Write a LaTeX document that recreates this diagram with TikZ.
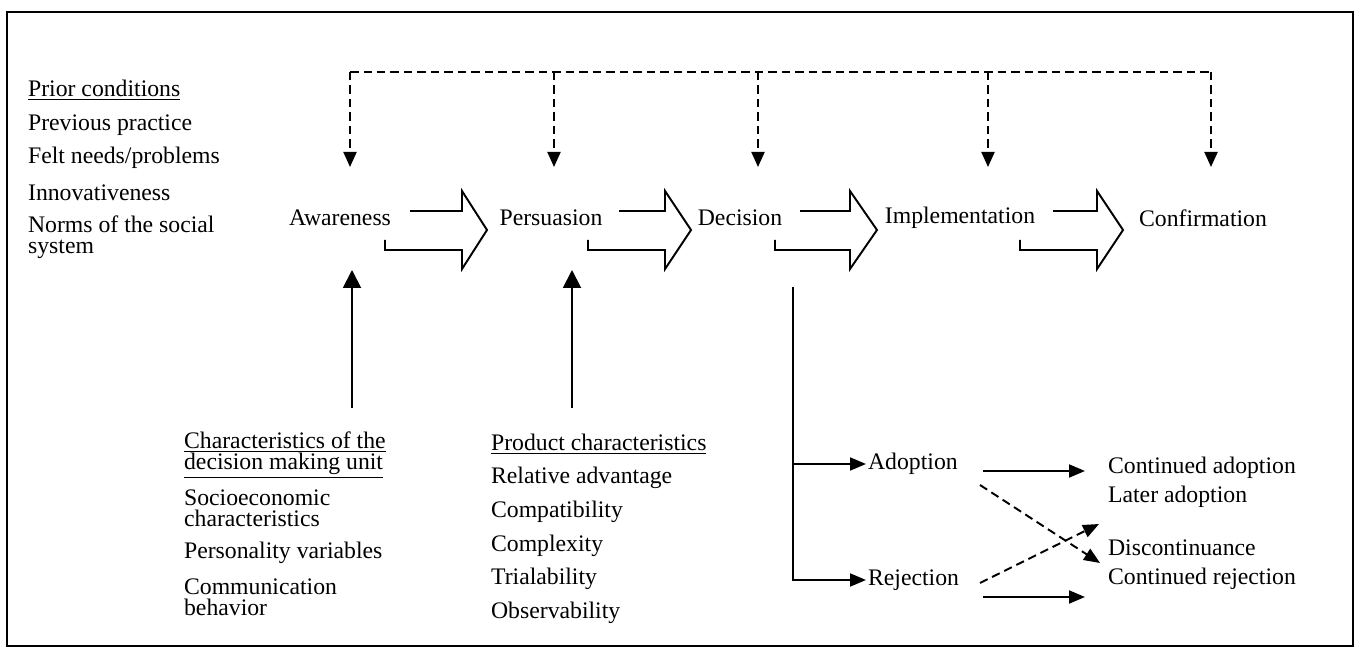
\documentclass[tikz,border=0pt]{standalone}
\usepackage{fontspec}
\setmainfont{Liberation Serif}
\usetikzlibrary{arrows.meta}

\tikzset{
  lbl/.style={font=\fontsize{13.5}{12}\selectfont, inner sep=1pt, align=left},
  wide/.style={lbl, font=\fontsize{13.5}{16.4}\selectfont},
  ln/.style={line width=1.1pt},
  tip/.style={ln, -{Triangle[length=0.32cm,width=0.26cm]}},
  bigtip/.style={ln, -{Triangle[length=0.36cm,width=0.36cm]}},
  dsh/.style={ln, dash pattern=on 0.17cm off 0.1cm},
}
% open block arrow between two stages: #1 bottom start, #2 top start, #3 head base, #4 head tip
\newcommand\stagearrow[4]{\draw[ln] (#2,211) -- (#3,211) -- (#3,191) -- (#4,230) -- (#3,269) -- (#3,250) -- (#1,250) -- (#1,240);}

\begin{document}
\begin{tikzpicture}[x=0.02cm, y=-0.02cm]
  \useasboundingbox (0,0) rectangle (1356,648);
  \draw[ln] (7,12) rectangle (1353,646);

  %%%%% prior conditions %%%%%
  \node[lbl, anchor=west] (prior) at (26,90) {\underline{Prior conditions}};
  \node[lbl, anchor=west] (prev) at (26,125) {Previous practice};
  \node[lbl, anchor=west] (felt) at (26,158) {Felt needs/problems};
  \node[lbl, anchor=west] (innov) at (26,193) {Innovativeness};
  \node[lbl, anchor=west] (norms) at (26,237) {Norms of the social\\system};

  %%%%% stages %%%%%
  \node[lbl] (aware) at (340,218) {Awareness};
  \node[lbl] (persu) at (551,218) {Persuasion};
  \node[lbl] (decis) at (740,218) {Decision};
  \node[lbl] (implem) at (960,218) {Implementation};
  \node[lbl] (confirm) at (1203,218) {Confirmation};

  \stagearrow{385}{410}{462}{487}
  \stagearrow{588}{619}{665}{691}
  \stagearrow{775}{800}{850}{877}
  \stagearrow{1020}{1053}{1097}{1123}

  %%%%% feedback from prior conditions %%%%%
  \coordinate (fb1) at (350,72);
  \coordinate (fb2) at (554,72);
  \coordinate (fb3) at (758,72);
  \coordinate (fb4) at (988,72);
  \coordinate (fb5) at (1211,72);
  \draw[dsh] (fb1) -- (fb5);
  \foreach \i in {1,...,5}
    \draw[dsh, -{Triangle[length=0.3cm,width=0.26cm]}] (fb\i) -- ++(0,95);

  %%%%% characteristics %%%%%
  \node[lbl, anchor=west] (unit) at (182,455) {\underline{Characteristics of the}\\\underline{decision making unit}};
  \node[lbl, anchor=west] (socio) at (182,508) {Socioeconomic\\characteristics};
  \node[lbl, anchor=west] (person) at (182,553) {Personality variables};
  \node[lbl, anchor=west] (commu) at (182,597) {Communication\\behavior};

  \node[lbl, anchor=west] (prod) at (489,444) {\underline{Product characteristics}};
  \node[lbl, anchor=west] (relat) at (489,478) {Relative advantage};
  \node[lbl, anchor=west] (compa) at (489,512) {Compatibility};
  \node[lbl, anchor=west] (compl) at (489,546) {Complexity};
  \node[lbl, anchor=west] (trial) at (489,579) {Trialability};
  \node[lbl, anchor=west] (obser) at (489,613) {Observability};

  \coordinate (up1) at (352,408);
  \coordinate (up2) at (572,408);
  \draw[bigtip] (up1) -- ++(0,-138);
  \draw[bigtip] (up2) -- ++(0,-138);

  %%%%% decision outcomes %%%%%
  \node[lbl, anchor=west] (adopt) at (866,464) {Adoption};
  \node[lbl, anchor=west] (reject) at (866,580) {Rejection};
  \coordinate (split) at (793,287);
  \draw[tip] (split) |- (reject.west);
  \draw[tip] (split |- adopt.west) -- (adopt.west);

  \node[wide, anchor=west] (later) at (1106,482) {Continued adoption\\Later adoption};
  \node[wide, anchor=west] (discon) at (1106,565) {Discontinuance\\Continued rejection};

  \coordinate (a0) at (983,471);
  \coordinate (a1) at (1085,471);
  \coordinate (r0) at (983,597);
  \coordinate (r1) at (1085,597);
  \draw[tip] (a0) -- (a1);
  \draw[tip] (r0) -- (r1);
  \draw[dsh, -{Triangle[length=0.32cm,width=0.26cm]}] (980,485) -- (1100,563);
  \draw[dsh, -{Triangle[length=0.32cm,width=0.26cm]}] (980,583) -- (1099,524);
\end{tikzpicture}
\end{document}
